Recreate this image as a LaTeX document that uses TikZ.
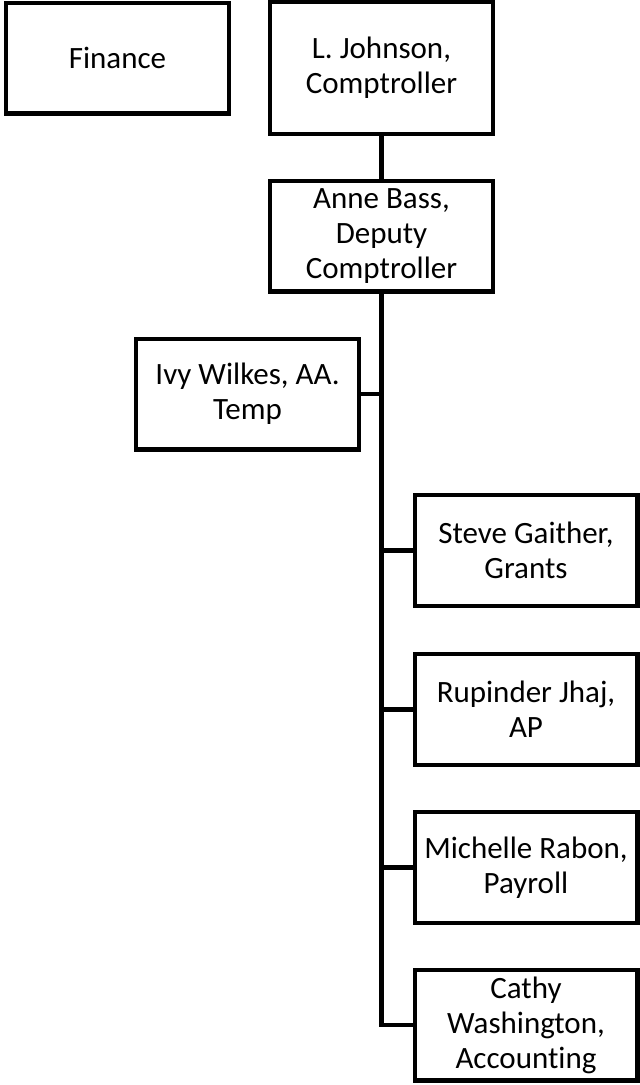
\documentclass[tikz,border=0pt]{standalone}
\usepackage{fontspec}
\setmainfont{Carlito}[Ligatures={NoCommon}]
\begin{document}
\begin{tikzpicture}[x=1pt,y=-1pt,
  orgbox/.style={draw=black, line width=4.4pt, fill=white, inner sep=0pt,
    minimum width=222.6pt, minimum height=110.6pt, align=center,
    font=\fontsize{31}{35}\selectfont},
  link/.style={draw=black, line width=4.4pt}]
\useasboundingbox (0,0) rectangle (640,1085);
\node[orgbox] (fin) at (117.5,58) {Finance};
\node[orgbox, minimum height=131.6pt] (john) at (381.5,68) {L. Johnson,\\Comptroller};
\node[orgbox] (bass) at (381.5,236) {Anne Bass,\\Deputy\\Comptroller};
\node[orgbox] (ivy) at (247.5,394) {Ivy Wilkes, AA.\\Temp};
\node[orgbox] (steve) at (526,550.5) {Steve Gaither,\\Grants};
\node[orgbox] (rup) at (526,709.5) {Rupinder Jhaj,\\AP};
\node[orgbox] (mich) at (526,867.5) {Michelle Rabon,\\Payroll};
\node[orgbox] (cathy) at (526,1025) {Cathy\\Washington,\\Accounting};
\draw[link] (john.south) -- (bass.north);
\draw[link] (bass.south) |- (cathy.west);
\draw[link] (ivy.east) -- (ivy.east -| bass.south);
\draw[link] (steve.west) -- (steve.west -| bass.south);
\draw[link] (rup.west) -- (rup.west -| bass.south);
\draw[link] (mich.west) -- (mich.west -| bass.south);
\end{tikzpicture}
\end{document}
